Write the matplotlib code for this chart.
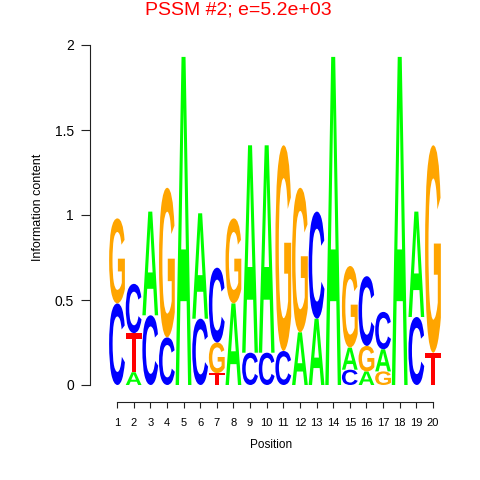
import matplotlib
matplotlib.use('Agg')
import matplotlib.pyplot as plt
from matplotlib.textpath import TextPath
from matplotlib.patches import PathPatch
from matplotlib.transforms import Affine2D
from matplotlib.font_manager import FontProperties

plt.rcParams['font.family'] = ['Liberation Sans', 'DejaVu Sans']

# Posiciones del motivo
posiciones = list(range(1, 21))

# Contenido de informacion por letra (bits) en cada posicion
altura_A = [0, 0.075, 0.61, 0, 1.93, 0.62, 0, 0.48, 1.22, 1.22, 0, 0.31, 0.39, 1.93, 0.13, 0.08, 0.13, 1.93, 0.62, 0]
altura_C = [0.48, 0.29, 0.41, 0.28, 0, 0.39, 0.44, 0, 0.19, 0.19, 0.20, 0, 0.63, 0, 0.09, 0.41, 0.22, 0, 0.40, 0]
altura_G = [0.50, 0, 0, 0.88, 0, 0, 0.18, 0.50, 0, 0, 1.21, 0.85, 0, 0, 0.48, 0.15, 0.08, 0, 0, 1.22]
altura_T = [0, 0.23, 0, 0, 0, 0, 0.07, 0, 0, 0, 0, 0, 0, 0, 0, 0, 0, 0, 0, 0.19]

colores = {'A': '#00FF00', 'C': '#0000FF', 'G': '#FFA500', 'T': '#FF0000'}
fuente = FontProperties(family='Liberation Sans', weight='bold')


def letra(ax, ch, x, y, ancho, alto, color):
    tp = TextPath((0, 0), ch, size=1, prop=fuente)
    bb = tp.get_extents()
    t = (Affine2D().translate(-bb.x0, -bb.y0)
         .scale(ancho / bb.width, alto / bb.height)
         .translate(x - ancho / 2, y))
    ax.add_patch(PathPatch(t.transform_path(tp), fc=color, ec='none', lw=0))


fig = plt.figure(figsize=(4.8, 4.8), dpi=100)
# ejes en pixeles: x=90..450, y (desde arriba) 45..385
ax = fig.add_axes([90 / 480, 95 / 480, 360 / 480, 340 / 480])
px = 16.63
ax.set_xlim(1 - 27 / px, 1 + 333 / px)
ax.set_ylim(0, 2)

for i, p in enumerate(posiciones):
    pila = [('A', altura_A[i]), ('C', altura_C[i]), ('G', altura_G[i]), ('T', altura_T[i])]
    pila = sorted([s for s in pila if s[1] > 0], key=lambda s: s[1])
    base = 0
    for ch, h in pila:
        letra(ax, ch, p, base, 0.95, h, colores[ch])
        base += h

for s in ['top', 'right']:
    ax.spines[s].set_visible(False)
ax.spines['left'].set_bounds(0, 2)
ax.spines['bottom'].set_bounds(1, 20)
ax.spines['bottom'].set_position(('outward', 12.2))
for s in ['left', 'bottom']:
    ax.spines[s].set_linewidth(0.8)
    ax.spines[s].set_color('#222222')

ax.set_yticks([0, 0.5, 1, 1.5, 2])
ax.set_yticklabels(['0', '0.5', '1', '1.5', '2'])
ax.set_xticks(posiciones)
ax.set_xticklabels([str(p) for p in posiciones])
ax.tick_params(axis='y', length=6.5, width=0.8, pad=5, labelsize=10, color='#222222')
ax.tick_params(axis='x', length=4.5, width=0.8, pad=7, labelsize=8, color='#222222')

fig.text(271 / 480, 1 - 445 / 480, 'Position', ha='center', va='center', fontsize=8.5)
fig.text(38 / 480, 1 - 207 / 480, 'Information content', ha='center', va='center',
         rotation=90, fontsize=9)
fig.text(238 / 480, 1 - 10 / 480, 'PSSM #2; e=5.2e+03', ha='center', va='center',
         fontsize=14, color='#FF0000')

fig.savefig('out.png', dpi=100)
